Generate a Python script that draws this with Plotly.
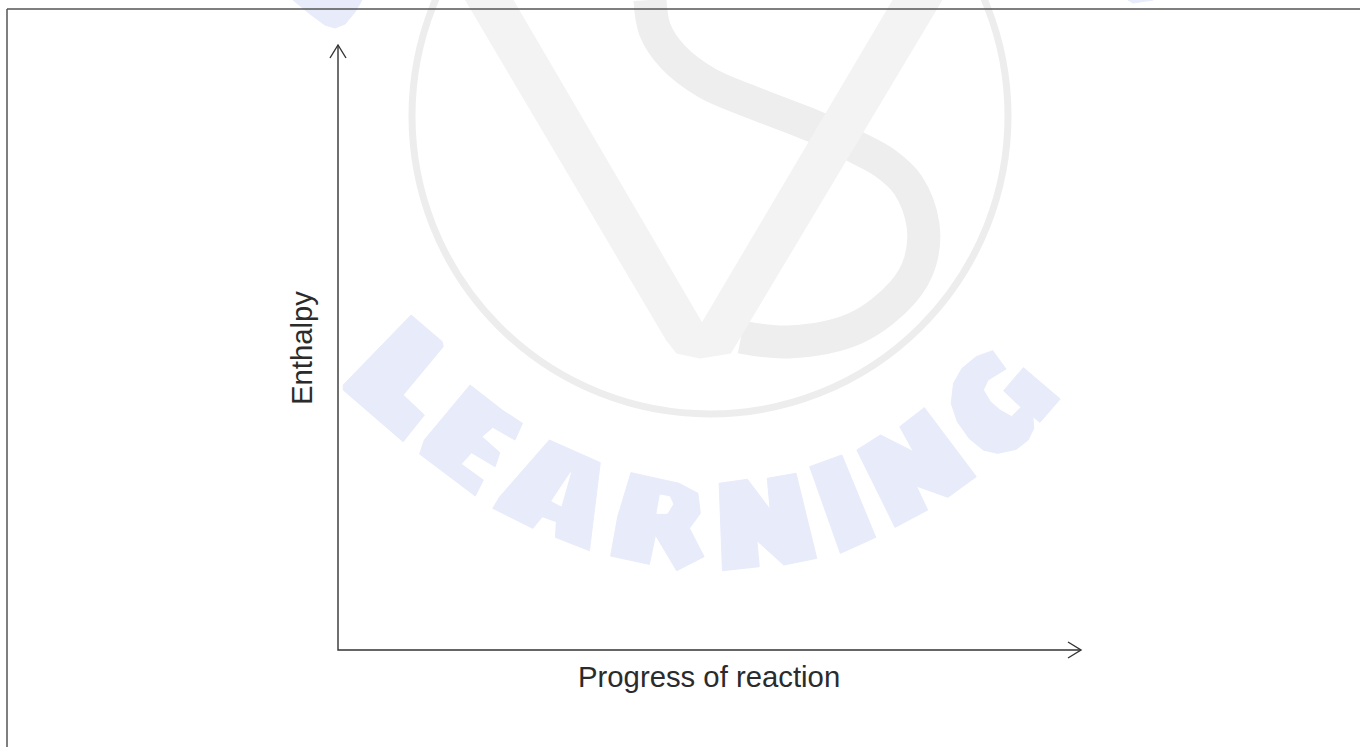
import plotly.graph_objects as go

# Canvas-pixel drawing coordinates (the diagram has no data series)
W, H = 1360, 747
x_axis_label = "Progress of reaction"
y_axis_label = "Enthalpy"

axes_x = [338, 338, 1081]
axes_y = [45, 650, 650]
up_head_x = [330, 338, 346]
up_head_y = [58, 45, 58]
right_head_x = [1068, 1081, 1068]
right_head_y = [642, 650, 658]
frame_x = [7, 7, None, 7, 1360]
frame_y = [747, 9, None, 9, 9]

# Watermark outlines, read in zoomed-crop coordinates
KX, KY, OX, OY = 2.12, 3.0, 330, 300
letters = {
    "L": [(172,45),(238,125),(240,140),(155,285),(200,345),(155,425),(28,270),(28,255)],
    "E": [(297,255),(365,330),(408,370),(392,420),(345,382),(322,410),(360,458),(350,500),(300,458),(278,492),(325,540),(308,588),(190,462),(200,420)],
    "A": [(465,420),(573,488),(550,752),(478,712),(480,665),(450,650),(430,685),(345,625),(360,590)],
    "R": [(638,518),(740,550),(780,580),(785,640),(762,685),(793,770),(735,812),(690,705),(677,793),(595,768),(610,650)],
    "N": [(825,550),(885,538),(933,628),(927,535),(988,520),(1032,775),(962,795),(905,722),(910,800),(832,812)],
    "I": [(1017,500),(1085,465),(1157,712),(1082,760)],
    "N2": [(1117,450),(1167,405),(1237,455),(1208,380),(1260,323),(1370,530),(1310,592),(1243,558),(1267,630),(1198,682)],
    "G": [(1405,152),(1433,207),(1395,240),(1385,270),(1400,305),(1420,330),(1445,350),(1465,322),(1428,272),(1470,203),(1548,297),(1505,367),(1490,350),(1492,385),(1480,420),(1455,448),(1415,460),(1385,450),(1355,415),(1330,365),(1317,310),(1322,250),(1340,205),(1370,170)],
}
holes = {
    "A": [(510,518),(490,618),(470,603)],
    "R": [(700,585),(720,590),(727,612),(715,640),(693,640)],
}
top_blob_x = [293, 310, 325, 335, 345, 355, 362]
top_blob_y = [0, 14, 25, 28, 24, 12, 0]
top_right_x = [1128, 1133, 1153]
top_right_y = [0, 3, 0]

v_x = [465.5, 666.5, 676.6, 700, 730.7, 942, 893, 702, 513]
v_y = [0, 340, 353, 358, 353, 0, 0, 323, 0]
s_x = [650, 655, 673, 707, 754, 818, 856, 885, 908, 923, 920, 903, 856, 788, 741]
s_y = [0, 30, 57, 83, 103, 128, 147, 163, 185, 225, 262, 292, 328, 342, 337]

BLUE, V_GREY, S_GREY, RING, INK, FRAME = "#e8ebfa", "#f3f3f3", "#eeeeee", "#ededed", "#333333", "#555555"


def px(points):
    return [OX + p[0] / KX for p in points], [OY + p[1] / KY for p in points]


fig = go.Figure()


def poly(x, y, color, width=1):
    fig.add_trace(go.Scatter(x=x + x[:1], y=y + y[:1], mode="lines", fill="toself",
                             fillcolor=color, line=dict(color=color, width=width),
                             hoverinfo="skip", showlegend=False))


def line(x, y, color, width, shape="linear"):
    fig.add_trace(go.Scatter(x=x, y=y, mode="lines", line=dict(color=color, width=width, shape=shape),
                             hoverinfo="skip", showlegend=False))


# Watermark ring, S and V
fig.add_shape(type="circle", x0=412, x1=1008, y0=-182, y1=414, line=dict(color=RING, width=7), layer="below")
line(s_x, s_y, S_GREY, 33, "spline")
poly(v_x, v_y, V_GREY)

# Watermark lettering
for pts in letters.values():
    poly(*px(pts), BLUE)
for pts in holes.values():
    poly(*px(pts), "#ffffff")
poly(top_blob_x, top_blob_y, BLUE)
poly(top_right_x, top_right_y, BLUE)

# Frame and axes
line(frame_x, frame_y, FRAME, 1.5)
line(axes_x, axes_y, INK, 1.4)
line(up_head_x, up_head_y, INK, 1.4)
line(right_head_x, right_head_y, INK, 1.4)

fig.add_annotation(x=709, y=676, text=x_axis_label, showarrow=False,
                   font=dict(family="Liberation Sans", size=29.3, color="#2b2b2b"))
fig.add_annotation(x=301, y=348, text=y_axis_label, textangle=-90, showarrow=False,
                   font=dict(family="Liberation Sans", size=29.3, color="#2b2b2b"))

fig.update_layout(width=W, height=H, margin=dict(l=0, r=0, t=0, b=0),
                  paper_bgcolor="white", plot_bgcolor="white", showlegend=False,
                  xaxis=dict(range=[0, W], visible=False, fixedrange=True),
                  yaxis=dict(range=[H, 0], visible=False, fixedrange=True))

fig.write_html("out.html", config={"displayModeBar": False},
               post_script="document.body.style.margin='0';document.body.style.overflow='hidden';")
